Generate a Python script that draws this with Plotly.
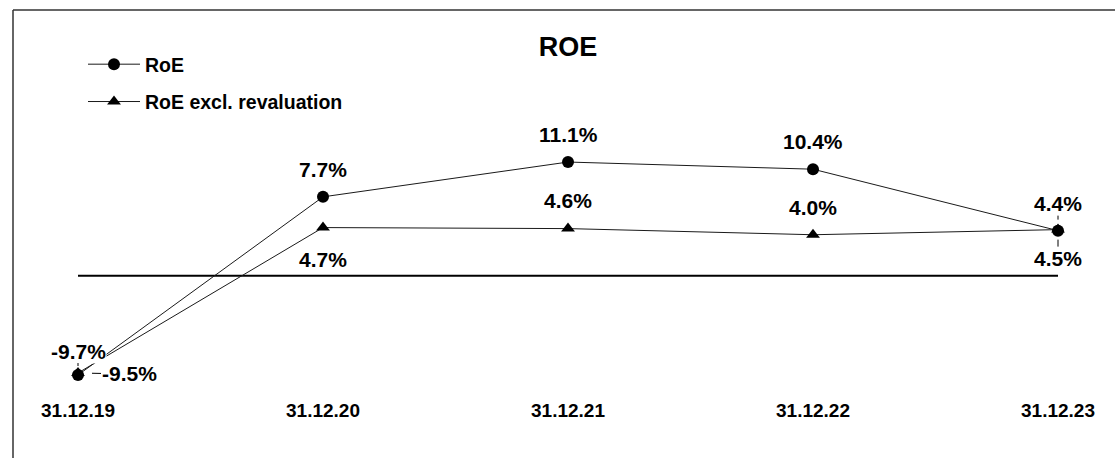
import plotly.graph_objects as go

# Reporting dates and return-on-equity figures (in %)
dates = ["31.12.19", "31.12.20", "31.12.21", "31.12.22", "31.12.23"]
roe = [-9.7, 7.7, 11.1, 10.4, 4.4]
roe_excl_reval = [-9.5, 4.7, 4.6, 4.0, 4.5]

# Label placement (pixel offsets from each point) and leader-tick flags
roe_label_dx = [0, 0, 0, 0, 0]
roe_label_dy = [-24, -27, -28, -28, -27]
roe_label_tick = [True, False, False, False, True]
excl_label_dx = [51, 0, 0, 0, 0]
excl_label_dy = [1, 32, -28, -27, 29]
excl_label_tick = [True, False, False, False, True]

FONT = "Liberation Sans, Arial, Helvetica, sans-serif"
INK = "#000000"
W, H = 1115, 458
PLOT_BOTTOM = 61

xs = list(range(len(dates)))

fig = go.Figure()

fig.add_trace(go.Scatter(
    x=xs, y=roe_excl_reval, name="RoE excl. revaluation",
    mode="lines+markers",
    line=dict(color="#1a1a1a", width=1),
    marker=dict(symbol="triangle-up", size=12, color=INK),
    legendgroup="b", legendrank=2, cliponaxis=False,
))
fig.add_trace(go.Scatter(
    x=xs, y=roe, name="RoE",
    mode="lines+markers",
    line=dict(color="#1a1a1a", width=1),
    marker=dict(symbol="circle", size=12, color=INK),
    legendgroup="a", legendrank=1, cliponaxis=False,
))

# Zero baseline spanning the first to the last reporting date
fig.add_shape(type="line", xref="x", yref="y", x0=xs[0], x1=xs[-1], y0=0, y1=0,
              line=dict(color=INK, width=2), layer="below")


def add_labels(values, dxs, dys, ticks, standoff):
    for i, v in enumerate(values):
        fig.add_annotation(
            x=xs[i], y=v, text=f"{v:.1f}%",
            showarrow=True, arrowhead=0, arrowwidth=1,
            arrowcolor=INK if ticks[i] else "rgba(0,0,0,0)",
            standoff=standoff[i], ax=dxs[i], ay=dys[i],
            axref="pixel", ayref="pixel",
            font=dict(family=FONT, size=21, color=INK, weight="bold"),
            bgcolor="white", borderpad=0,
        )


add_labels(roe, roe_label_dx, roe_label_dy, roe_label_tick, [9, 0, 0, 0, 11])
add_labels(roe_excl_reval, excl_label_dx, excl_label_dy, excl_label_tick, [14, 0, 0, 0, 10])

# Frame along the top and left edges
top_px, left_px = 10, 13
plot_h = H - PLOT_BOTTOM
fig.add_shape(type="line", xref="paper", yref="paper",
              x0=left_px / W, x1=1.0, y0=1 - top_px / plot_h, y1=1 - top_px / plot_h,
              line=dict(color="#333333", width=1.5))
fig.add_shape(type="line", xref="paper", yref="paper",
              x0=left_px / W, x1=left_px / W, y0=1 - top_px / plot_h, y1=-PLOT_BOTTOM / plot_h,
              line=dict(color="#333333", width=1.5))

px_per_cat = 245.0
x0_px = 78.0
px_per_unit = 10.24
zero_px = 275.7

fig.update_layout(
    width=W, height=H,
    margin=dict(l=0, r=0, t=0, b=PLOT_BOTTOM),
    paper_bgcolor="white", plot_bgcolor="white",
    font=dict(family=FONT, color=INK),
    title=dict(text="<b>ROE</b>", x=568 / W, xanchor="center",
               y=1 - 47 / H, yanchor="middle", yref="container",
               font=dict(family=FONT, size=27, color=INK)),
    showlegend=True,
    legend=dict(x=83 / W, xanchor="left", y=1 - 45 / plot_h, yanchor="top",
                traceorder="grouped", tracegroupgap=9, itemwidth=52,
                font=dict(family=FONT, size=19.5, color=INK, weight="bold"),
                bgcolor="rgba(0,0,0,0)"),
    xaxis=dict(range=[-x0_px / px_per_cat, (W - x0_px) / px_per_cat],
               tickvals=xs, ticktext=dates, showgrid=False, zeroline=False,
               showline=False, ticks="",
               tickfont=dict(family=FONT, size=19, color=INK, weight="bold")),
    yaxis=dict(range=[-(plot_h - zero_px) / px_per_unit, zero_px / px_per_unit],
               visible=False, showgrid=False, zeroline=False),
)

fig.write_html("out.html", config={"displayModeBar": False})
